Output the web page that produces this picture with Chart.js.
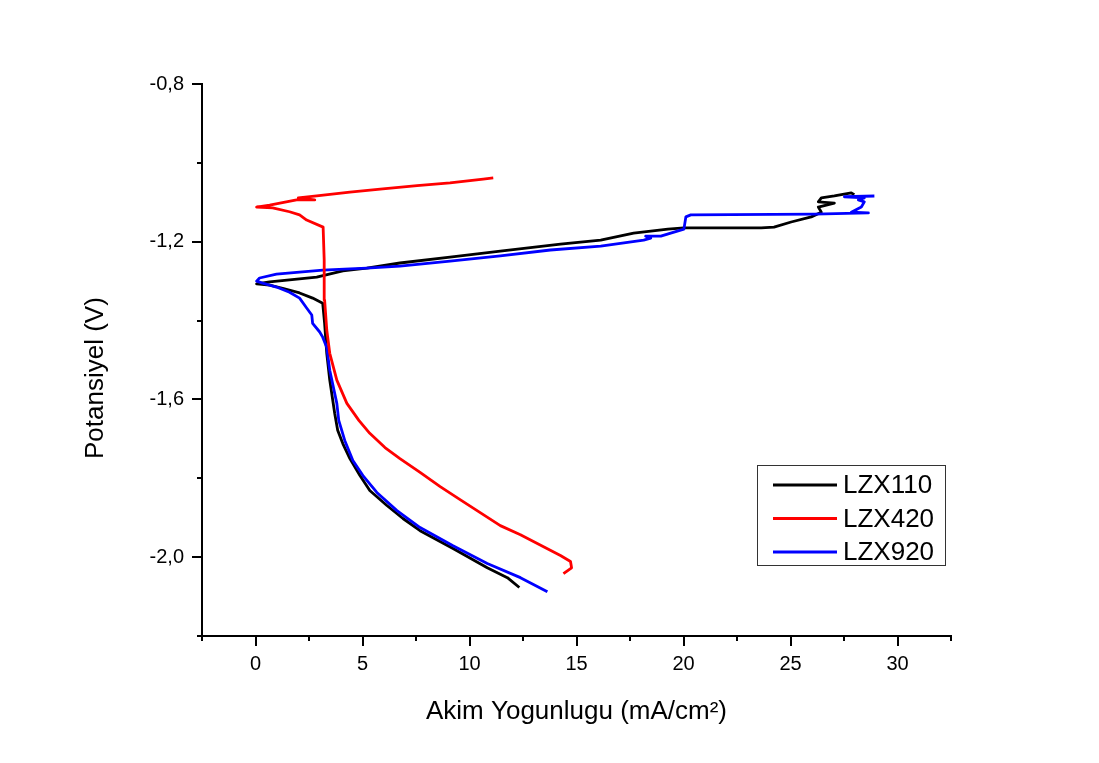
<!DOCTYPE html>
<html>
<head>
<meta charset="utf-8">
<script src="https://cdn.jsdelivr.net/npm/chart.js@4.4.0/dist/chart.umd.min.js"></script>
<style>
html, body { margin: 0; padding: 0; background: #fff; }
canvas { display: block; }
</style>
</head>
<body>
<canvas id="myChart" width="1099" height="763"></canvas>
<script>
// series names / colours
const seriesNames = ['LZX110', 'LZX420', 'LZX920'];
const seriesColors = ['#000000', '#ff0000', '#0000ff'];

// current density (mA/cm2) and potential (V)
const lzx110Current = [12.33, 11.77, 10.83, 9.23, 7.69, 6.89, 6.14, 5.34, 4.88, 4.41, 4.08, 3.84, 3.70, 3.47, 3.33, 3.23, 3.14, 2.67, 2.06, 1.27, 0.66, 0.05, 0.66, 1.59, 2.86, 4.08, 5.20, 6.75, 9.09, 11.44, 14.25, 16.13, 17.67, 19.27, 20.02, 23.63, 24.23, 25.03, 25.97, 26.44, 26.30, 27.05, 26.30, 26.44, 27.05, 27.84, 27.98];
const lzx110Potential = [-2.077, -2.052, -2.027, -1.978, -1.933, -1.902, -1.869, -1.831, -1.793, -1.750, -1.712, -1.678, -1.635, -1.551, -1.483, -1.407, -1.356, -1.343, -1.330, -1.318, -1.310, -1.307, -1.302, -1.297, -1.290, -1.274, -1.267, -1.254, -1.239, -1.224, -1.206, -1.196, -1.178, -1.168, -1.165, -1.165, -1.163, -1.150, -1.137, -1.125, -1.112, -1.102, -1.099, -1.089, -1.084, -1.076, -1.081];

const lzx420Current = [14.39, 14.77, 14.72, 14.25, 13.55, 12.38, 11.44, 10.50, 9.56, 8.63, 7.69, 6.75, 6.05, 5.34, 4.83, 4.27, 3.80, 3.47, 3.33, 3.23, 3.21, 3.16, 2.39, 2.06, 1.59, 0.80, 0.05, 0.66, 1.92, 2.77, 2.00, 2.86, 4.41, 5.95, 7.55, 9.09, 10.64, 11.11];
const lzx420Potential = [-2.042, -2.027, -2.011, -1.996, -1.976, -1.943, -1.920, -1.887, -1.854, -1.821, -1.785, -1.750, -1.722, -1.686, -1.653, -1.610, -1.551, -1.483, -1.424, -1.348, -1.246, -1.163, -1.145, -1.132, -1.124, -1.114, -1.112, -1.107, -1.094, -1.094, -1.089, -1.084, -1.074, -1.066, -1.058, -1.051, -1.041, -1.038];

const lzx920Current = [13.64, 12.38, 10.83, 9.23, 7.69, 6.61, 5.67, 5.02, 4.55, 4.17, 3.89, 3.80, 3.47, 3.33, 3.14, 3.00, 2.67, 2.63, 2.39, 2.06, 1.59, 0.98, 0.33, 0.05, 0.19, 0.98, 2.06, 3.14, 4.41, 5.20, 6.75, 9.09, 11.44, 13.78, 16.13, 18.14, 18.47, 18.23, 18.94, 20.02, 20.11, 20.34, 26.11, 28.64, 27.84, 28.31, 28.45, 28.17, 28.45, 27.52, 28.92];
const lzx920Potential = [-2.088, -2.052, -2.016, -1.971, -1.925, -1.882, -1.836, -1.793, -1.755, -1.704, -1.653, -1.610, -1.526, -1.468, -1.442, -1.429, -1.407, -1.386, -1.368, -1.343, -1.328, -1.315, -1.305, -1.300, -1.292, -1.282, -1.277, -1.272, -1.269, -1.267, -1.262, -1.249, -1.236, -1.221, -1.211, -1.196, -1.191, -1.186, -1.186, -1.168, -1.137, -1.132, -1.130, -1.127, -1.125, -1.112, -1.099, -1.094, -1.089, -1.086, -1.084];

// axis ranges (labelled every second step)
const xRange = [-2.5, 32.5];
const xStep = 2.5;
const yRange = [-2.2, -0.8];
const yStep = 0.2;

const xTitle = 'Akim Yogunlugu (mA/cm\u00b2)';
const yTitle = 'Potansiyel (V)';

const FONT = "'Liberation Sans', Arial, sans-serif";

function pts(xs, ys) {
    let out = [];
    for (let i = 0; i < xs.length; i++) out.push({x: xs[i], y: ys[i]});
    return out;
}

// outward ticks: long on odd steps (the labelled ones), short in between
const axisTicks = {
    id: 'axisTicks',
    afterDraw(chart) {
        const ctx = chart.ctx;
        ctx.save();
        ctx.strokeStyle = '#000';
        ctx.lineWidth = 2;
        const sx = chart.scales.x, sy = chart.scales.y;
        const nx = Math.round((xRange[1] - xRange[0]) / xStep);
        for (let i = 0; i <= nx; i++) {
            const p = Math.round(sx.getPixelForValue(xRange[0] + i * xStep));
            const len = (i % 2 == 1) ? 10 : 5;
            ctx.beginPath();
            ctx.moveTo(p, sx.top);
            ctx.lineTo(p, sx.top + len);
            ctx.stroke();
        }
        const ny = Math.round((yRange[1] - yRange[0]) / yStep);
        for (let i = 0; i <= ny; i++) {
            const p = Math.round(sy.getPixelForValue(yRange[0] + i * yStep));
            const len = (i % 2 == 1) ? 10 : 5;
            ctx.beginPath();
            ctx.moveTo(sy.right, p);
            ctx.lineTo(sy.right - len, p);
            ctx.stroke();
        }
        ctx.restore();
    }
};

// boxed legend inside the plot, lower right
const boxLegend = {
    id: 'boxLegend',
    afterDraw(chart) {
        const ctx = chart.ctx;
        const a = chart.chartArea;
        const left = a.right - 194, top = a.top + 381, w = 188, h = 100;
        ctx.save();
        ctx.strokeStyle = '#333';
        ctx.lineWidth = 1;
        ctx.strokeRect(left + 0.5, top + 0.5, w, h);
        ctx.font = '26px ' + FONT;
        ctx.textBaseline = 'middle';
        ctx.fillStyle = '#000';
        for (let i = 0; i < seriesNames.length; i++) {
            const y = top + 20 + i * 33.5;
            ctx.strokeStyle = seriesColors[i];
            ctx.lineWidth = 3;
            ctx.beginPath();
            ctx.moveTo(left + 16, y);
            ctx.lineTo(left + 80, y);
            ctx.stroke();
            ctx.fillText(seriesNames[i], left + 86, y + 1);
        }
        ctx.restore();
    }
};

const lineStyle = {showLine: true, pointRadius: 0, borderWidth: 2.8, borderJoinStyle: 'round', fill: false, tension: 0};

let ctx = document.getElementById('myChart').getContext('2d');
let chart = new Chart(ctx, {
    type: 'scatter',
    data: {
        datasets: [
            Object.assign({label: seriesNames[0], data: pts(lzx110Current, lzx110Potential), borderColor: seriesColors[0], order: 3}, lineStyle),
            Object.assign({label: seriesNames[1], data: pts(lzx420Current, lzx420Potential), borderColor: seriesColors[1], order: 1}, lineStyle),
            Object.assign({label: seriesNames[2], data: pts(lzx920Current, lzx920Potential), borderColor: seriesColors[2], order: 2}, lineStyle)
        ]
    },
    options: {
        responsive: false,
        animation: false,
        layout: {padding: {top: 84, right: 148, left: 0, bottom: 0}},
        plugins: {legend: {display: false}, tooltip: {enabled: false}},
        scales: {
            x: {
                type: 'linear',
                position: 'bottom',
                min: xRange[0], max: xRange[1],
                afterFit: s => { s.height = 127; },
                border: {display: true, color: '#000', width: 2},
                grid: {drawOnChartArea: false, drawTicks: true, tickLength: 10, tickColor: 'rgba(0,0,0,0)'},
                ticks: {
                    stepSize: xStep, autoSkip: false, maxRotation: 0, padding: 6,
                    color: '#000', font: {family: FONT, size: 20},
                    callback: v => (Math.round(v * 2) % 10 === 0) ? String(Math.round(v)) : ''
                },
                title: {display: true, text: xTitle, color: '#000', font: {family: FONT, size: 26}, padding: {top: 0, bottom: 36}}
            },
            y: {
                type: 'linear',
                position: 'left',
                min: yRange[0], max: yRange[1],
                afterFit: s => { s.width = 202; },
                border: {display: true, color: '#000', width: 2},
                grid: {drawOnChartArea: false, drawTicks: true, tickLength: 10, tickColor: 'rgba(0,0,0,0)'},
                ticks: {
                    stepSize: yStep, autoSkip: false, padding: 8,
                    color: '#000', font: {family: FONT, size: 20},
                    callback: v => (Math.round(v * 10) % 4 === 0) ? v.toFixed(1).replace('.', ',') : ''
                },
                title: {display: true, text: yTitle + '     ', color: '#000', font: {family: FONT, size: 26}, padding: {top: 80, bottom: 0}}
            }
        }
    },
    plugins: [axisTicks, boxLegend]
});
</script>
</body>
</html>
